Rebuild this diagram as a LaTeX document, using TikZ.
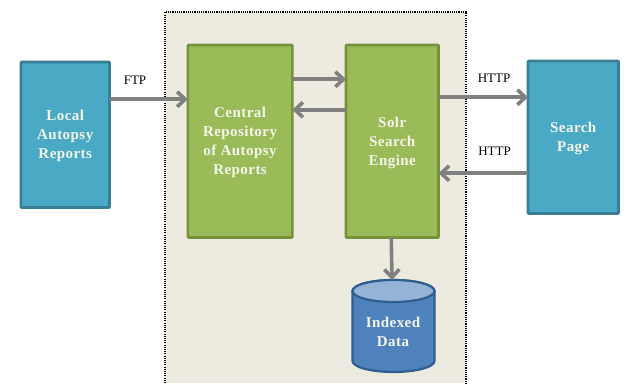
\documentclass[tikz,border=0pt]{standalone}
\usepackage{fontspec}
\setmainfont{Liberation Serif}
\newfontfamily\labfont[LetterSpace=3]{Liberation Serif}
\usetikzlibrary{arrows.meta,positioning}
\definecolor{panelc}{HTML}{EDEBE0}
\definecolor{bluef}{HTML}{4AAAC5}
\definecolor{blueb}{HTML}{3A7D96}
\definecolor{greenf}{HTML}{9BBB59}
\definecolor{greenb}{HTML}{76923C}
\definecolor{cylf}{HTML}{4F81BD}
\definecolor{cylt}{HTML}{95B3D7}
\definecolor{cylb}{HTML}{2F5F8F}
\definecolor{arrowc}{HTML}{808080}
\definecolor{labc}{HTML}{F4F6EC}
\newcommand{\dn}{\rule{0pt}{13pt}}
\tikzset{
  boxbase/.style={draw,line width=2.6pt,outer sep=0pt,rounded corners=0.8pt,inner sep=0pt,align=center,
    font=\labfont\bfseries\fontsize{15}{19}\selectfont,text=labc,anchor=north west},
  bluebox/.style={boxbase,fill=bluef,draw=blueb},
  greenbox/.style={boxbase,fill=greenf,draw=greenb},
  conn/.style={draw=arrowc,line width=3.6pt,-{Straight Barb[length=8pt,width=15pt,line width=3.6pt]}},
  proto/.style={font=\fontsize{13}{15}\selectfont,text=black,inner sep=0pt},
  cylline/.style={draw=cylb,line width=2.2pt},
}
\begin{document}
\begin{tikzpicture}[x=1pt,y=-1pt]
\useasboundingbox (0,0) rectangle (626,383);
\fill[white] (0,0) rectangle (626,383);
\fill[panelc] (165,12) rectangle (466,383);
\draw[black,line width=1.4pt,dash pattern=on 1.1pt off 1.1pt] (165,383) -- (165,12) -- (466,12) -- (466,383);
\node[bluebox,minimum width=88.5pt,minimum height=145.5pt] (local) at (21,62) {\dn Local\\Autopsy\\Reports};
\node[greenbox,minimum width=104.5pt,minimum height=192.5pt] (central) at (187.8,45) {\dn Central\\Repository\\of Autopsy\\Reports};
\node[greenbox,minimum width=92.5pt,minimum height=192.5pt] (solr) at (346,45) {\rule{0pt}{14pt}Solr\\Search\\Engine};
\node[bluebox,minimum width=90.5pt,minimum height=152.5pt] (search) at (528,61) {\dn Search\\Page};
\path[fill=cylf,cylline] (352.5,291) -- (352.5,361) arc[start angle=180,end angle=360,x radius=41pt,y radius=11pt] -- (434.5,291) arc[start angle=0,end angle=180,x radius=41pt,y radius=11pt] -- cycle;
\path[fill=cylt,cylline] (393.5,291) ellipse[x radius=41pt,y radius=11pt];
\node[minimum width=83pt,minimum height=92pt,inner sep=0pt,outer sep=0pt,align=center,font=\labfont\bfseries\fontsize{15}{19}\selectfont,text=labc,text depth=0pt] (data) at (393,326) {\raisebox{-1pt}{\parbox{80pt}{\centering Indexed\\Data}}};
\node[proto] (ftp) at (135,80) {FTP};
\node[proto] (http1) at (494,78) {HTTP};
\node[proto,fill=white,minimum width=55pt,minimum height=27pt] (http2) at (494.5,151.5) {HTTP};
\draw[conn] ([yshift=35.5pt]local.east) -- ([yshift=42pt]central.west);
\draw[conn] ([yshift=62pt]central.east) -- ([yshift=62pt]solr.west);
\draw[conn] ([yshift=31.5pt]solr.west) -- ([yshift=31.5pt]central.east);
\draw[conn] ([yshift=44pt]solr.east) -- ([yshift=40pt]search.west);
\draw[conn] ([yshift=-36pt]search.west) -- ([yshift=-32pt]solr.east);
\draw[conn] ([xshift=-1pt]solr.south) -- ([xshift=-1pt]data.north);
\end{tikzpicture}
\end{document}
